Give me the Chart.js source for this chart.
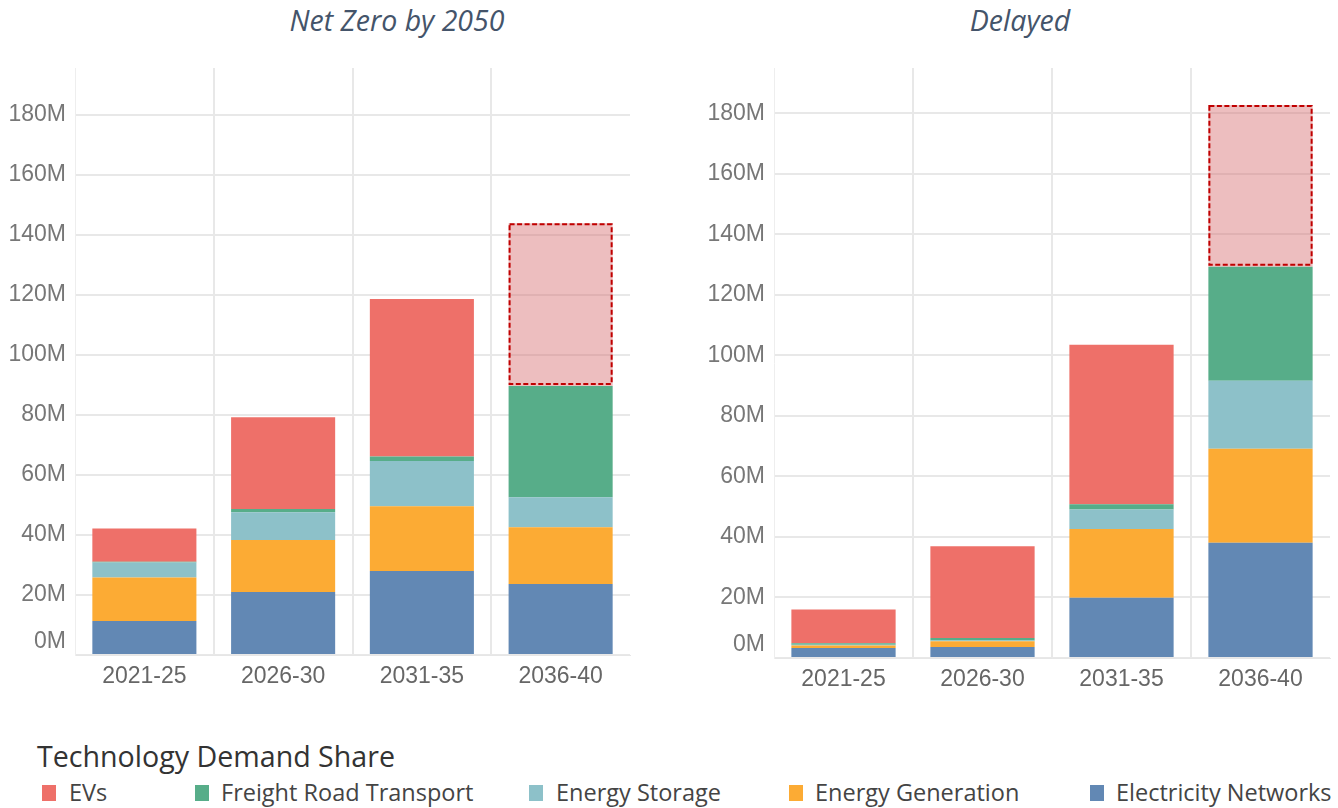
<!DOCTYPE html>
<html>
<head>
<meta charset="utf-8">
<script src="https://cdn.jsdelivr.net/npm/chart.js@4"></script>
<style>
  html, body { margin: 0; padding: 0; background: #fff; width: 1338px; height: 808px; overflow: hidden; }
  #wrap { position: relative; width: 1338px; height: 808px; }
  canvas { position: absolute; }
  .title { position: absolute; top: 1px; font-family: "Open Sans", sans-serif; font-style: italic; font-size: 28.5px; color: #44546A; white-space: nowrap; transform: translateX(-50%); }
  #legendTitle { position: absolute; left: 37px; top: 736px; font-family: "Open Sans", sans-serif; font-size: 28.6px; color: #333; white-space: nowrap; }
  .lg { position: absolute; top: 777px; font-family: "Open Sans", sans-serif; font-size: 23.5px; color: #444; white-space: nowrap; line-height: 30px; }
  .sw { position: absolute; width: 14px; height: 16px; top: 785px; }
</style>
</head>
<body>
<div id="wrap">
  <div class="title" style="left:397px">Net Zero by 2050</div>
  <div class="title" style="left:1020px">Delayed</div>
  <canvas id="c1" width="660" height="700" style="left:0;top:0"></canvas>
  <canvas id="c2" width="638" height="703" style="left:700px;top:0"></canvas>
  <div id="legendTitle">Technology Demand Share</div>
  <div id="legend"></div>
</div>
<script>
// ---- data (values in millions) ----
const categories = ['2021-25', '2026-30', '2031-35', '2036-40'];
const yTickValues = [0, 20, 40, 60, 80, 100, 120, 140, 160, 180];
const seriesNames = ['EVs', 'Freight Road Transport', 'Energy Storage', 'Energy Generation', 'Electricity Networks'];
const projectedCategory = '2036-40';

// Net Zero by 2050
const nzElectricityNetworks = [11.3, 21.0, 28.0, 23.7];
const nzEnergyGeneration    = [14.5, 17.3, 21.6, 18.9];
const nzEnergyStorage       = [5.0, 9.3, 15.1, 10.0];
const nzFreightRoad         = [0.3, 1.1, 1.5, 37.1];
const nzEVs                 = [11.1, 30.6, 52.5, 54.2];

// Delayed
const dlElectricityNetworks = [3.3, 3.6, 19.9, 38.1];
const dlEnergyGeneration    = [0.8, 1.9, 22.7, 31.1];
const dlEnergyStorage       = [0.3, 0.3, 6.5, 22.4];
const dlFreightRoad         = [0.5, 0.8, 1.7, 37.7];
const dlEVs                 = [11.1, 30.3, 52.7, 53.5];

// ---- styles ----
const colors = {
  'EVs': '#EE7069',
  'Freight Road Transport': '#57AD89',
  'Energy Storage': '#8DC1C9',
  'Energy Generation': '#FCAB34',
  'Electricity Networks': '#6288B4'
};
const projectedFill = 'rgba(215,111,113,0.45)';
const projectedBorder = '#C00000';
const axisFont = '"Liberation Sans", Arial, sans-serif';

function buildDatasets(en, eg, es, fr, ev) {
  const projIdx = categories.indexOf(projectedCategory);
  return [
    { label: 'Electricity Networks', data: en, backgroundColor: colors['Electricity Networks'] },
    { label: 'Energy Generation', data: eg, backgroundColor: colors['Energy Generation'] },
    { label: 'Energy Storage', data: es, backgroundColor: colors['Energy Storage'] },
    { label: 'Freight Road Transport', data: fr, backgroundColor: colors['Freight Road Transport'] },
    { label: 'EVs', data: ev, backgroundColor: ev.map((v, i) => i === projIdx ? projectedFill : colors['EVs']), projected: true }
  ].map(d => Object.assign(d, { borderWidth: 0, barPercentage: 0.75, categoryPercentage: 1.0, stack: 's' }));
}

const yLabelPlugin = {
  id: 'yLabels',
  afterDraw(chart) {
    const ctx = chart.ctx, y = chart.scales.y, area = chart.chartArea;
    ctx.save();
    ctx.font = '23px ' + axisFont;
    ctx.fillStyle = '#777777';
    ctx.textAlign = 'right';
    ctx.textBaseline = 'middle';
    yTickValues.forEach(v => {
      let py = y.getPixelForValue(v);
      if (v === 0) py -= 13;
      ctx.fillText(v + 'M', area.left - 9, py);
    });
    ctx.restore();
  }
};

const dashedPlugin = {
  id: 'dashedBox',
  afterDatasetsDraw(chart) {
    const projIdx = categories.indexOf(projectedCategory);
    chart.data.datasets.forEach((ds, di) => {
      if (!ds.projected) return;
      const el = chart.getDatasetMeta(di).data[projIdx];
      if (!el) return;
      const ctx = chart.ctx;
      const left = el.x - el.width / 2, top = Math.min(el.y, el.base), h = Math.abs(el.base - el.y);
      ctx.save();
      ctx.strokeStyle = projectedBorder;
      ctx.lineWidth = 2;
      ctx.setLineDash([5, 2.5]);
      ctx.strokeRect(left + 1, top + 1, el.width - 2, h - 3);
      ctx.restore();
    });
  }
};

function makeChart(canvasId, datasets, padding, yMax) {
  return new Chart(document.getElementById(canvasId), {
    type: 'bar',
    data: { labels: categories, datasets: datasets },
    options: {
      responsive: false,
      animation: false,
      devicePixelRatio: 1,
      layout: { padding: padding },
      plugins: { legend: { display: false }, tooltip: { enabled: false } },
      scales: {
        x: {
          stacked: true,
          grid: {
            offset: true,
            drawTicks: false,
            lineWidth: 2,
            color: (c) => (c.index === undefined || c.index === 0 || c.index >= categories.length) ? 'rgba(0,0,0,0)' : '#E8E8E8'
          },
          border: { display: true, color: '#E6E6E6', width: 1 },
          ticks: { font: { family: axisFont, size: 23 }, color: '#666666', padding: 8, maxRotation: 0 }
        },
        y: {
          stacked: true,
          min: 0,
          max: yMax,
          afterBuildTicks: (scale) => { scale.ticks = yTickValues.map(v => ({ value: v })); },
          grid: { drawTicks: false, lineWidth: 2, color: '#E8E8E8' },
          border: { display: true, color: '#EEEEEE', width: 1 },
          ticks: { display: false }
        }
      }
    },
    plugins: [yLabelPlugin, dashedPlugin]
  });
}

makeChart('c1', buildDatasets(nzElectricityNetworks, nzEnergyGeneration, nzEnergyStorage, nzFreightRoad, nzEVs),
  { left: 75, top: 68, right: 30, bottom: 1.4 }, 195.7);
makeChart('c2', buildDatasets(dlElectricityNetworks, dlEnergyGeneration, dlEnergyStorage, dlFreightRoad, dlEVs),
  { left: 74, top: 68, right: 8, bottom: 1.4 }, 195);

// ---- HTML legend ----
const legendPos = [
  { sw: 42, tx: 69 },
  { sw: 195, tx: 221 },
  { sw: 529, tx: 556 },
  { sw: 789, tx: 815 },
  { sw: 1090, tx: 1116 }
];
const lg = document.getElementById('legend');
seriesNames.forEach((name, i) => {
  const s = document.createElement('div');
  s.className = 'sw';
  s.style.left = legendPos[i].sw + 'px';
  s.style.background = colors[name];
  lg.appendChild(s);
  const t = document.createElement('div');
  t.className = 'lg';
  t.style.left = legendPos[i].tx + 'px';
  t.textContent = name;
  lg.appendChild(t);
});
</script>
</body>
</html>
